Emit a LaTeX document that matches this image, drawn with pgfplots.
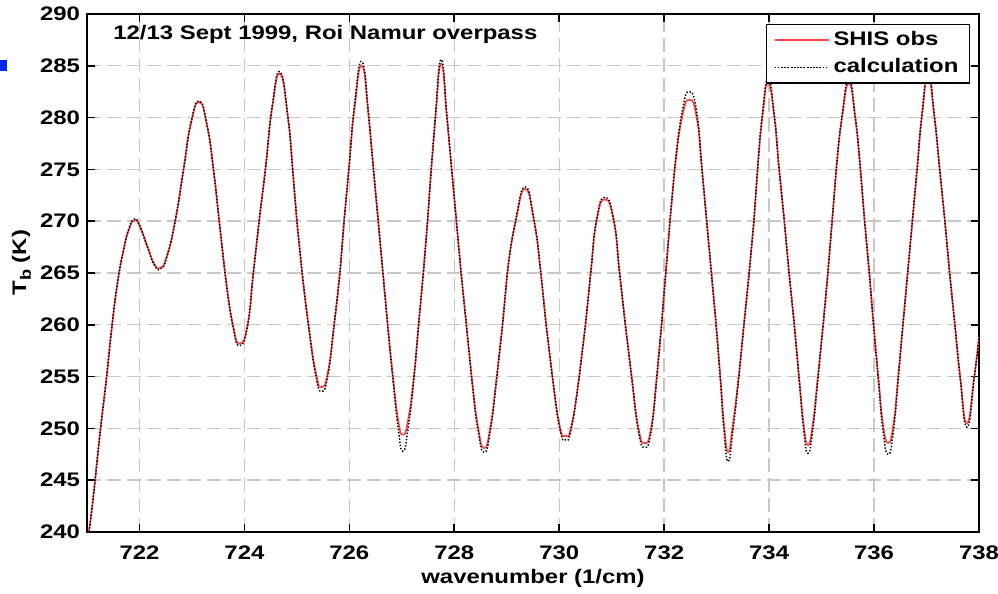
\documentclass[border=0pt]{standalone}
\usepackage{fontspec}
\setmainfont{Liberation Sans}[FakeStretch=1.22]
\usepackage{pgfplots}
\pgfplotsset{compat=1.18}
\usepackage{pgfplotstable}
\definecolor{obsred}{RGB}{255,70,70}
\definecolor{gridgray}{RGB}{200,200,200}
\definecolor{bulletblue}{RGB}{0,40,240}
\newcommand\ff{\fontsize{9.8bp}{11.8bp}\selectfont\bfseries}

\pgfplotstableread{
x y
721.00 238.8
721.10 242.5
721.25 249.6
721.37 254.8
721.47 259.6
721.58 264.0
721.70 267.3
721.80 269.2
721.90 270.1
722.00 269.6
722.15 267.6
722.28 265.9
722.40 265.5
722.52 266.6
722.68 270.0
722.84 275.0
722.98 279.4
723.14 281.5
723.29 279.2
723.41 275.0
723.52 270.0
723.63 265.0
723.78 260.0
723.91 258.2
724.06 260.0
724.17 265.0
724.28 270.0
724.40 275.0
724.53 281.0
724.68 284.2
724.83 280.0
724.92 275.0
725.00 270.0
725.10 265.0
725.22 260.0
725.36 255.4
725.47 254.0
725.59 255.4
725.71 260.0
725.82 265.0
725.90 270.0
725.99 275.0
726.10 281.0
726.24 285.0
726.37 280.0
726.46 275.0
726.55 270.0
726.64 265.0
726.73 260.0
726.83 255.0
726.93 250.8
727.02 249.4
727.12 250.8
727.23 255.0
727.32 260.0
727.41 265.0
727.49 270.0
727.56 275.0
727.64 280.0
727.75 285.2
727.86 280.0
727.95 275.0
728.04 270.0
728.13 265.0
728.23 260.0
728.33 255.0
728.45 250.2
728.57 248.1
728.69 250.2
728.81 255.0
728.92 260.0
729.01 265.0
729.17 270.0
729.35 273.1
729.52 270.0
729.65 265.0
729.75 260.0
729.87 255.0
730.01 250.2
730.12 249.3
730.23 250.2
730.38 255.0
730.50 260.0
730.60 265.0
730.71 270.0
730.87 272.1
731.04 270.0
731.15 265.0
731.26 260.0
731.38 255.0
731.51 250.0
731.63 248.6
731.75 250.0
731.86 255.0
731.95 260.0
732.03 265.0
732.11 270.0
732.20 275.0
732.34 280.0
732.48 281.7
732.62 280.0
732.72 275.0
732.81 270.0
732.90 265.0
732.99 260.0
733.07 255.0
733.14 250.4
733.22 247.7
733.31 250.4
733.42 255.0
733.52 260.0
733.62 265.0
733.71 270.0
733.78 275.0
733.87 280.0
733.98 283.3
734.10 280.0
734.19 275.0
734.29 270.0
734.38 265.0
734.48 260.0
734.57 255.0
734.66 250.3
734.74 248.4
734.83 250.3
734.93 255.0
735.03 260.0
735.12 265.0
735.20 270.0
735.28 275.0
735.39 280.0
735.52 283.3
735.64 280.0
735.74 275.0
735.82 270.0
735.91 265.0
735.99 260.0
736.08 255.0
736.17 250.4
736.27 248.6
736.37 250.4
736.46 255.0
736.55 260.0
736.64 265.0
736.73 270.0
736.82 275.0
736.91 280.0
737.03 284.0
737.15 280.0
737.25 275.0
737.35 270.0
737.44 265.0
737.54 260.0
737.64 255.0
737.77 250.5
737.91 255.0
738.00 258.8
}\obs

\pgfplotstableread{
x y
721.00 238.8
721.10 242.5
721.25 249.6
721.37 254.8
721.47 259.6
721.58 264.0
721.70 267.3
721.80 269.3
721.90 270.2
722.00 269.6
722.15 267.5
722.28 265.8
722.40 265.4
722.52 266.5
722.68 270.0
722.84 275.0
722.98 279.5
723.14 281.6
723.29 279.2
723.41 275.0
723.52 270.0
723.63 265.0
723.78 259.9
723.91 258.0
724.06 259.9
724.17 265.0
724.28 270.0
724.40 275.0
724.53 281.1
724.68 284.4
724.83 280.0
724.92 275.0
725.00 270.0
725.10 265.0
725.22 260.0
725.36 255.1
725.47 253.6
725.59 255.1
725.71 260.0
725.82 265.0
725.90 270.0
725.99 275.0
726.10 281.3
726.24 285.4
726.37 280.2
726.46 275.0
726.55 270.0
726.64 265.0
726.73 260.0
726.83 254.8
726.93 250.0
727.02 247.8
727.12 250.0
727.23 254.8
727.32 260.0
727.41 265.0
727.49 270.0
727.56 275.0
727.64 280.2
727.75 285.6
727.86 280.2
727.95 275.0
728.04 270.0
728.13 265.0
728.23 260.0
728.33 254.9
728.45 249.9
728.57 247.7
728.69 249.9
728.81 254.9
728.92 260.0
729.01 265.0
729.17 270.1
729.35 273.3
729.52 270.1
729.65 265.0
729.75 260.0
729.87 254.9
730.01 250.0
730.12 248.9
730.23 250.0
730.38 254.9
730.50 260.0
730.60 265.0
730.71 270.1
730.87 272.3
731.04 270.1
731.15 265.0
731.26 260.0
731.38 254.9
731.51 249.7
731.63 248.2
731.75 249.7
731.86 254.9
731.95 260.0
732.03 265.0
732.11 270.0
732.20 275.1
732.34 280.5
732.48 282.5
732.62 280.5
732.72 275.1
732.81 270.0
732.90 265.0
732.99 260.0
733.07 254.8
733.14 249.8
733.22 246.8
733.31 249.8
733.42 254.8
733.52 260.0
733.62 265.0
733.71 270.0
733.78 275.1
733.87 280.2
733.98 283.7
734.10 280.2
734.19 275.1
734.29 270.0
734.38 265.0
734.48 260.0
734.57 254.8
734.66 249.8
734.74 247.6
734.83 249.8
734.93 254.8
735.03 260.0
735.12 265.0
735.20 270.0
735.28 275.1
735.39 280.2
735.52 283.7
735.64 280.2
735.74 275.1
735.82 270.0
735.91 265.0
735.99 260.0
736.08 254.8
736.17 249.8
736.27 247.5
736.37 249.8
736.46 254.8
736.55 260.0
736.64 265.0
736.73 270.0
736.82 275.1
736.91 280.2
737.03 284.3
737.15 280.2
737.25 275.1
737.35 270.0
737.44 265.0
737.54 260.0
737.64 254.9
737.77 250.1
737.91 254.9
738.00 258.9
}\calc

\begin{document}
\begin{tikzpicture}
\begin{axis}[
  scale only axis,
  width=446bp, height=259bp,
  xmin=721, xmax=738, ymin=240, ymax=290,
  xtick={722,724,...,738},
  ytick={240,245,...,290},
  tick align=inside, tick pos=both,
  major tick length=4bp,
  every tick/.style={black, line width=0.8bp},
  axis line style={line width=1.1bp},
  grid=major,
  major grid style={gridgray, line width=0.7bp, dash pattern=on 7bp off 3bp},
  /pgf/number format/assume math mode=true,
  ticklabel style={font=\ff},
  xticklabel style={/pgf/number format/1000 sep={}, yshift=-3.5bp},
  yticklabel style={/pgf/number format/1000 sep={}},
  xlabel={wavenumber (1/cm)},
  ylabel={T\raisebox{-0.45ex}{\fontsize{7.5bp}{8bp}\selectfont b} (K)},
  label style={font=\ff},
  xlabel style={yshift=2bp},
  ylabel style={at={(ticklabel cs:0.52)}, inner sep=1bp},
  title={12/13 Sept 1999, Roi Namur overpass},
  title style={font=\ff, at={(rel axis cs:0,1)}, anchor=west, inner sep=0pt, xshift=13bp, yshift=-16bp},
  legend style={at={(rel axis cs:1,1)}, anchor=north east, xshift=-4.5bp, yshift=-5bp,
    draw=black, line width=0.6bp, font=\ff, inner xsep=3.5bp, inner ysep=1.5bp,
    row sep=1bp},
  legend cell align=left,
  legend image code/.code={\path (0bp,0bp) -- (27bp,0bp); \draw[#1] (3.5bp,0bp) -- (23.5bp,0bp);},
]
\addplot[obsred, line width=0.85bp, smooth, tension=0.9] table[x=x,y=y] {\obs};
\addlegendentry{SHIS obs}
\addplot[black, line width=0.75bp, dash pattern=on 0.7bp off 0.9bp, smooth, tension=0.9] table[x=x,y=y] {\calc};
\addlegendentry{calculation}
\coordinate (bl) at (rel axis cs:0,0);
\coordinate (tr) at (rel axis cs:1,1);
\coordinate (tl) at (rel axis cs:0,1);
\end{axis}
\fill[bulletblue] ([shift={(-43.5bp,-23bp)}]tl) rectangle ([shift={(-40bp,-28.5bp)}]tl);
\pgfresetboundingbox
\path[use as bounding box] ([shift={(-43.5bp,-31bp)}]bl) rectangle ([shift={(9.5bp,7bp)}]tr);
\end{tikzpicture}
\end{document}
